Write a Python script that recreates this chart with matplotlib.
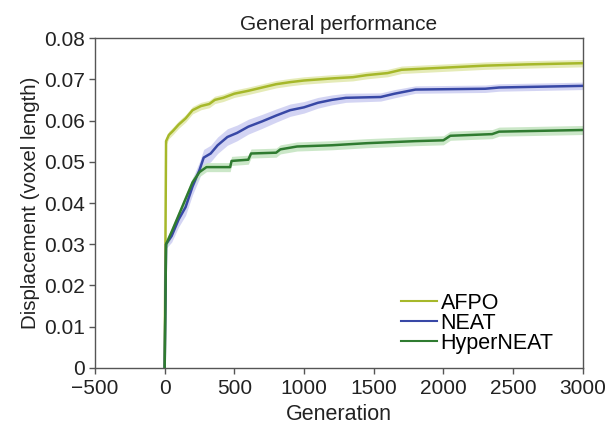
import matplotlib
matplotlib.use("Agg")
import matplotlib.pyplot as plt
import numpy as np

plt.rcParams['font.family'] = ['Liberation Sans', 'DejaVu Sans']

# ---- data ----
afpo_gen = [0, 10, 30, 60, 100, 150, 200, 260, 320, 360, 420, 500, 600, 700, 800,
            900, 1000, 1200, 1350, 1450, 1600, 1700, 2000, 2300, 2600, 3000]
afpo_val = [0.0, 0.055, 0.0565, 0.0575, 0.0590, 0.0605, 0.0625, 0.0635, 0.0640,
            0.0650, 0.0655, 0.0665, 0.0672, 0.0680, 0.0688, 0.0693, 0.0697, 0.0702,
            0.0705, 0.0710, 0.0715, 0.0723, 0.0728, 0.0733, 0.0736, 0.0739]
afpo_err = 0.0009

neat_gen = [0, 10, 50, 100, 150, 200, 250, 280, 330, 380, 450, 520, 600, 700, 800,
            900, 1000, 1100, 1200, 1300, 1550, 1650, 1800, 2300, 2400, 3000]
neat_val = [0.0, 0.030, 0.032, 0.036, 0.039, 0.044, 0.048, 0.051, 0.052, 0.054,
            0.056, 0.057, 0.0585, 0.0598, 0.0612, 0.0625, 0.0632, 0.0643, 0.0650,
            0.0655, 0.0657, 0.0665, 0.0675, 0.0677, 0.0680, 0.0684]
neat_err = [0.0, 0.0010, 0.0015, 0.0018, 0.0020, 0.0020, 0.0020, 0.0020, 0.0020, 0.0020,
            0.0020, 0.0019, 0.0018, 0.0017, 0.0016, 0.0015, 0.0014, 0.0013, 0.0012,
            0.0011, 0.0010, 0.0010, 0.0009, 0.0009, 0.0009, 0.0009]

hyper_gen = [0, 10, 50, 100, 150, 200, 250, 300, 470, 480, 600, 620, 800, 830, 950,
             1200, 1450, 1800, 2000, 2050, 2350, 2400, 3000]
hyper_val = [0.0, 0.030, 0.033, 0.037, 0.041, 0.045, 0.0475, 0.0487, 0.0487, 0.0502,
             0.0505, 0.0520, 0.0522, 0.0530, 0.0537, 0.0540, 0.0545, 0.0550, 0.0552,
             0.0563, 0.0567, 0.0573, 0.0577]
hyper_err = 0.0011

series = [
    ("AFPO", afpo_gen, afpo_val, afpo_err, "#a6b82a", "#e3e9b0"),
    ("NEAT", neat_gen, neat_val, neat_err, "#3848a6", "#cfd0f2"),
    ("HyperNEAT", hyper_gen, hyper_val, hyper_err, "#2f7b30", "#c6e5c2"),
]

fig = plt.figure(figsize=(6.07, 4.29), dpi=100)
ax = fig.add_axes([0.1565, 0.1422, 0.8035, 0.7692])

for name, g, v, e, col, fill in series:
    g = np.array(g); v = np.array(v); e = np.broadcast_to(np.array(e), v.shape)
    ax.fill_between(g, v - e, v + e, color=fill, lw=0, alpha=0.9, zorder=1)
for name, g, v, e, col, fill in series:
    ax.plot(g, v, color=col, lw=1.8, label=name, zorder=3)

ax.set_xlim(-500, 3000)
ax.set_ylim(0, 0.08)
ax.set_xticks([-500, 0, 500, 1000, 1500, 2000, 2500, 3000])
ax.set_xticklabels(["\u2212500", "0", "500", "1000", "1500", "2000", "2500", "3000"])
ax.set_yticks([0, 0.01, 0.02, 0.03, 0.04, 0.05, 0.06, 0.07, 0.08])
ax.set_yticklabels(["0", "0.01", "0.02", "0.03", "0.04", "0.05", "0.06", "0.07", "0.08"])

for sp in ax.spines.values():
    sp.set_color("#555555")
    sp.set_linewidth(1.0)
ax.tick_params(direction='out', length=4, width=1, color="#555555",
               labelsize=15, labelcolor="#222222")
ax.tick_params(axis='x', pad=4)
ax.tick_params(axis='y', pad=3)

ax.set_title("General performance", fontsize=15, color="#222222", pad=6)
ax.set_xlabel("Generation", fontsize=15.5, color="#222222", labelpad=4)
ax.set_ylabel("Displacement (voxel length)", fontsize=14.8, color="#222222", labelpad=3)

leg = ax.legend(loc="lower right", frameon=False, fontsize=15.5, handlelength=1.7,
                handletextpad=0.15, labelspacing=-0.05, borderaxespad=0.5,
                bbox_to_anchor=(0.98, -0.015))
for line in leg.get_lines():
    line.set_linewidth(1.5)

fig.savefig("out.png", dpi=100)
